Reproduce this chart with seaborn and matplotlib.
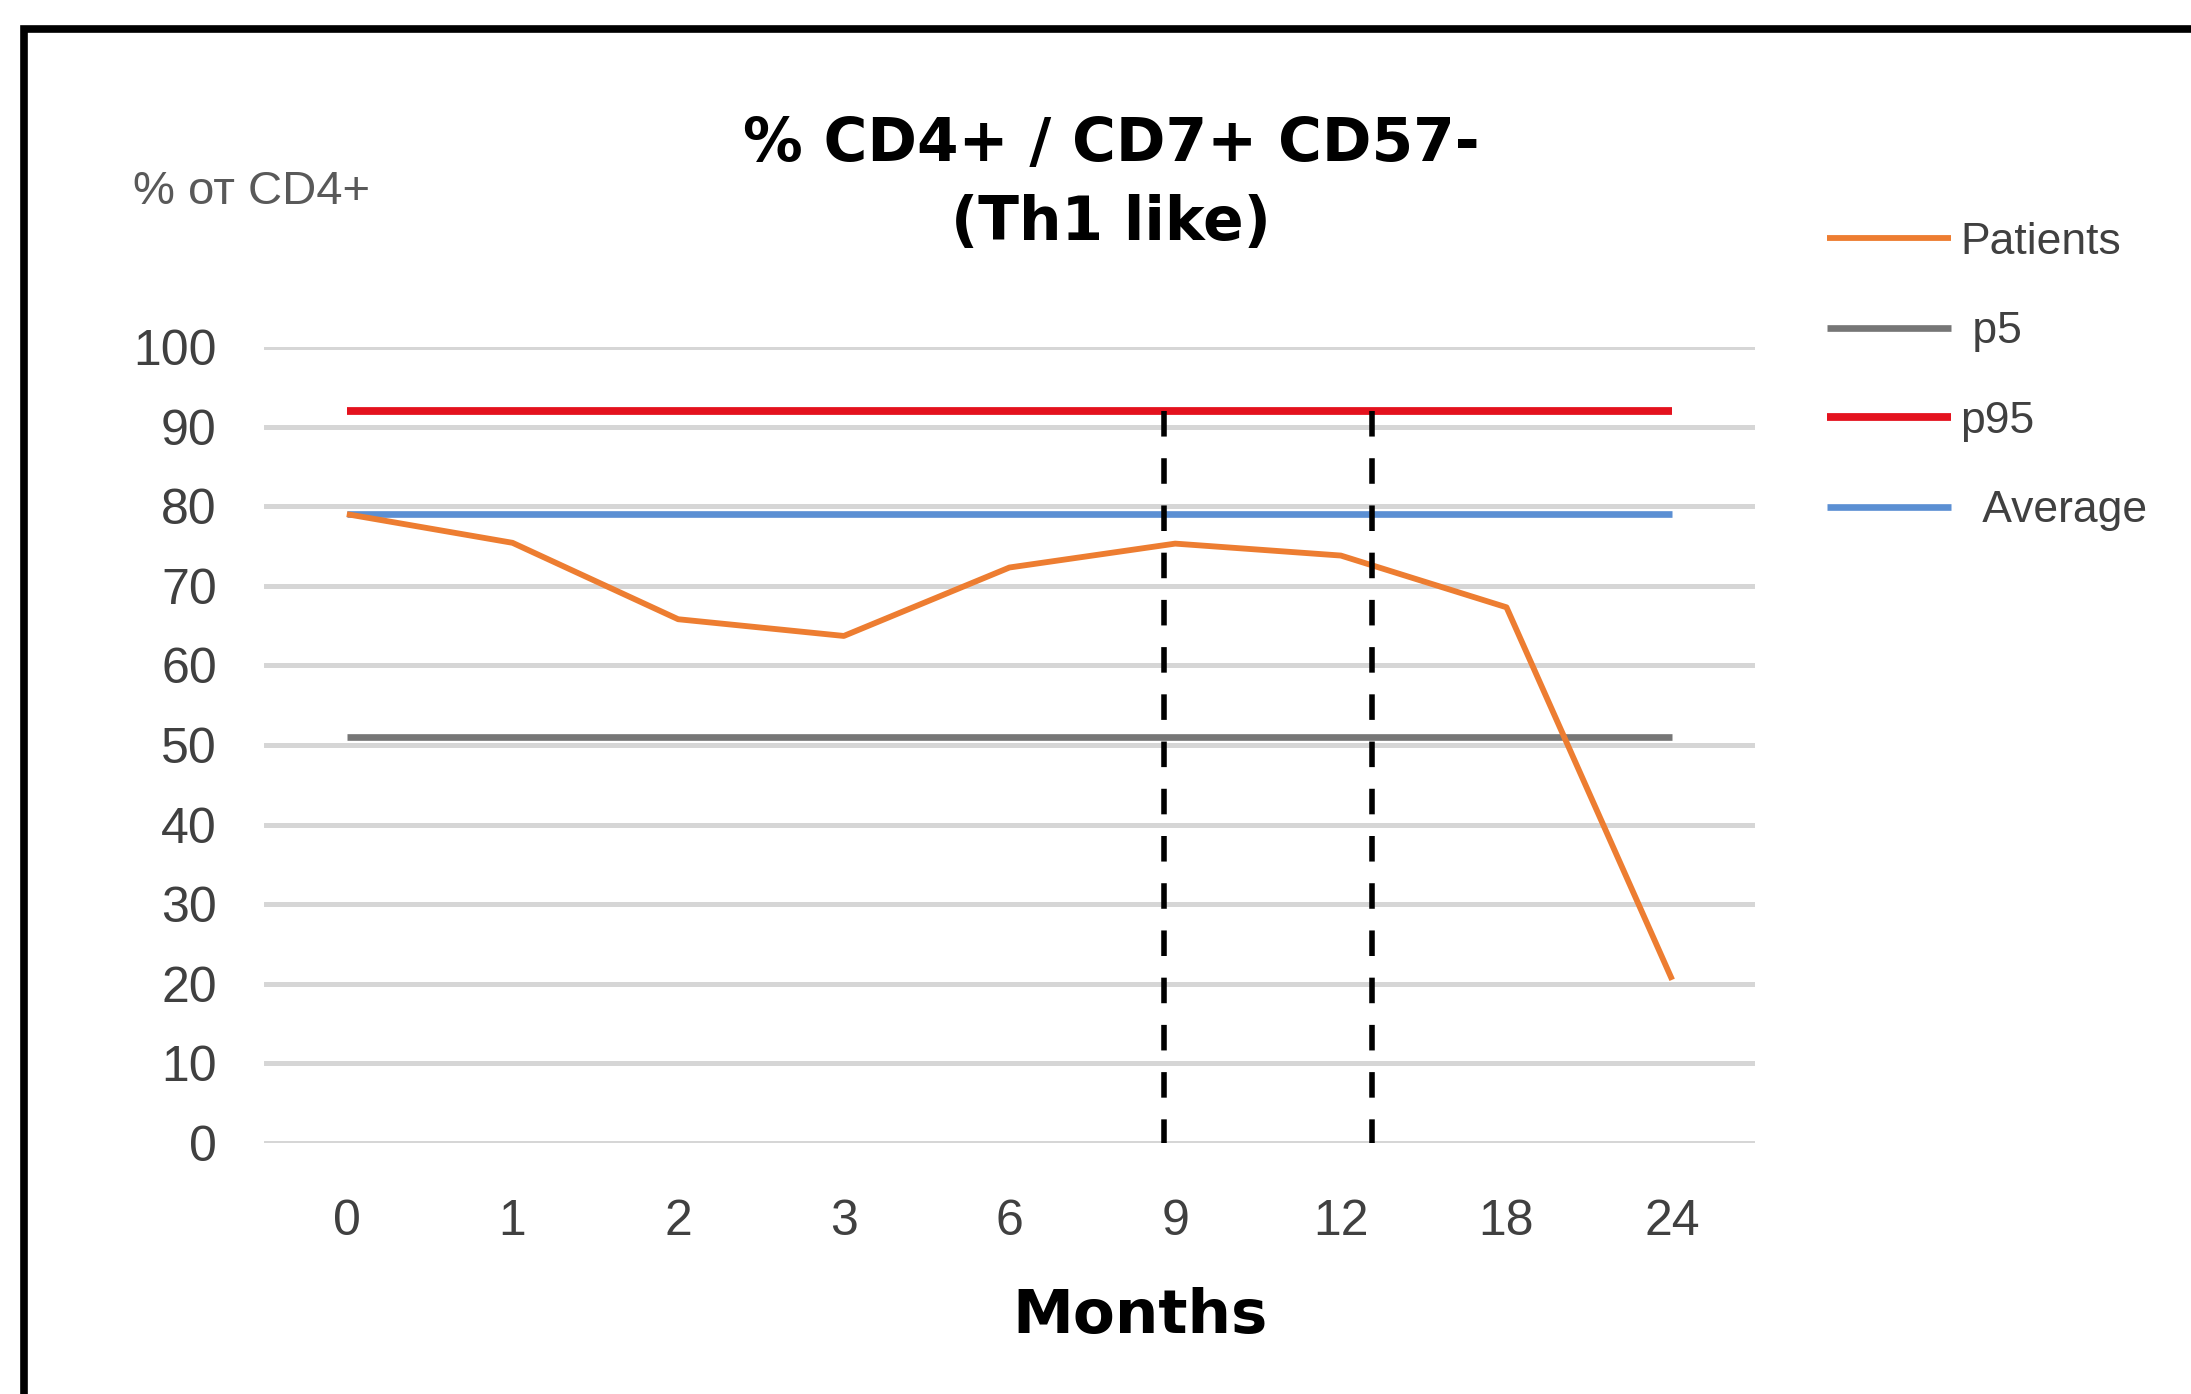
import matplotlib
matplotlib.use("Agg")
import matplotlib.pyplot as plt
from matplotlib.patches import Rectangle
import numpy as np
import pandas as pd
import seaborn as sns

# Follow-up time points (months) and measured / reference values (% of CD4+)
months = ["0", "1", "2", "3", "6", "9", "12", "18", "24"]
patients = [79.0, 75.4, 65.8, 63.7, 72.3, 75.3, 73.8, 67.3, 20.5]
p5 = [51, 51, 51, 51, 51, 51, 51, 51, 51]
p95 = [92, 92, 92, 92, 92, 92, 92, 92, 92]
average = [79, 79, 79, 79, 79, 79, 79, 79, 79]

# Event markers (position on the category axis) and their top value
event_pos = [4.93, 6.19]
event_top = 92

yticks = [0, 10, 20, 30, 40, 50, 60, 70, 80, 90, 100]

sns.set_theme(style="white")
plt.rcParams["font.family"] = ["Liberation Sans", "DejaVu Sans"]

W, H = 2191, 1394
fig = plt.figure(figsize=(W / 100, H / 100), dpi=100)
fig.patch.set_facecolor("white")

ax_left, ax_right = 264, 1755
ax_top, ax_bottom = 347, 1143
ax = fig.add_axes([ax_left / W, 1 - ax_bottom / H,
                   (ax_right - ax_left) / W, (ax_bottom - ax_top) / H])

pos = np.arange(len(months))
df = pd.DataFrame({
    "pos": np.tile(pos, 4),
    "value": patients + p5 + p95 + average,
    "series": (["Patients"] * len(months) + [" p5"] * len(months)
               + ["p95"] * len(months) + ["  Average"] * len(months)),
})

styles = {
    " p5": ("#767676", 4.8),
    "p95": ("#E4121E", 5.6),
    "  Average": ("#5B8FD3", 4.8),
    "Patients": ("#ED7D31", 4.2),
}
for name in [" p5", "p95", "  Average", "Patients"]:
    color, lw = styles[name]
    sns.lineplot(data=df[df["series"] == name], x="pos", y="value",
                 color=color, linewidth=lw, label=name, ax=ax, zorder=3,
                 solid_capstyle="butt")

# Dashed event markers, dash pattern starting from the top
for xpos in event_pos:
    ax.plot([xpos, xpos], [event_top, 0], color="black", linewidth=4.0,
            linestyle=(0, (4.6, 3.9)), zorder=5, dash_capstyle="butt")

ax.set_xlim(-0.5, len(months) - 0.5)
ax.set_ylim(0, 100)
ax.set_xticks(pos)
ax.set_xticklabels(months)
ax.set_yticks(yticks)
ax.set_xlabel("")
ax.set_ylabel("")
ax.grid(axis="y", color="#D6D6D6", linewidth=3.6, zorder=0)
ax.grid(axis="x", visible=False)
ax.set_axisbelow(True)
for s in ax.spines.values():
    s.set_visible(False)
ax.tick_params(axis="both", length=0, labelsize=36, colors="#404040")
ax.tick_params(axis="x", pad=40)
ax.tick_params(axis="y", pad=34)

# Legend on the right
handles, labels = ax.get_legend_handles_labels()
order = ["Patients", " p5", "p95", "  Average"]
hmap = dict(zip(labels, handles))
leg = fig.legend([hmap[k] for k in order], order,
                 loc="upper left", bbox_to_anchor=(1827 / W, 1 - 222 / H),
                 frameon=False, fontsize=32, handlelength=2.8,
                 handletextpad=0.2, labelspacing=1.09, borderpad=0,
                 borderaxespad=0)
for t in leg.get_texts():
    t.set_color("#404040")
ax.get_legend().remove()

# Titles and axis captions
fig.text(1111 / W, 1 - 184 / H, "% CD4+ / CD7+ CD57-\n(Th1 like)",
         ha="center", va="center", fontsize=43, fontweight="bold",
         family="DejaVu Sans", color="black", linespacing=1.45)
fig.text(133 / W, 1 - 204 / H, "% от CD4+", ha="left", va="baseline",
         fontsize=34, color="#595959")
fig.text(1140 / W, 1 - 1316 / H, "Months", ha="center", va="center",
         fontsize=44, fontweight="bold", family="DejaVu Sans", color="black")

# Outer frame
fig.add_artist(Rectangle((24 / W, -0.1), 1.2, 1 - 29 / H + 0.1,
                         transform=fig.transFigure, fill=False,
                         edgecolor="black", linewidth=5.5, zorder=10))

fig.savefig("out.png", dpi=100, facecolor="white")
